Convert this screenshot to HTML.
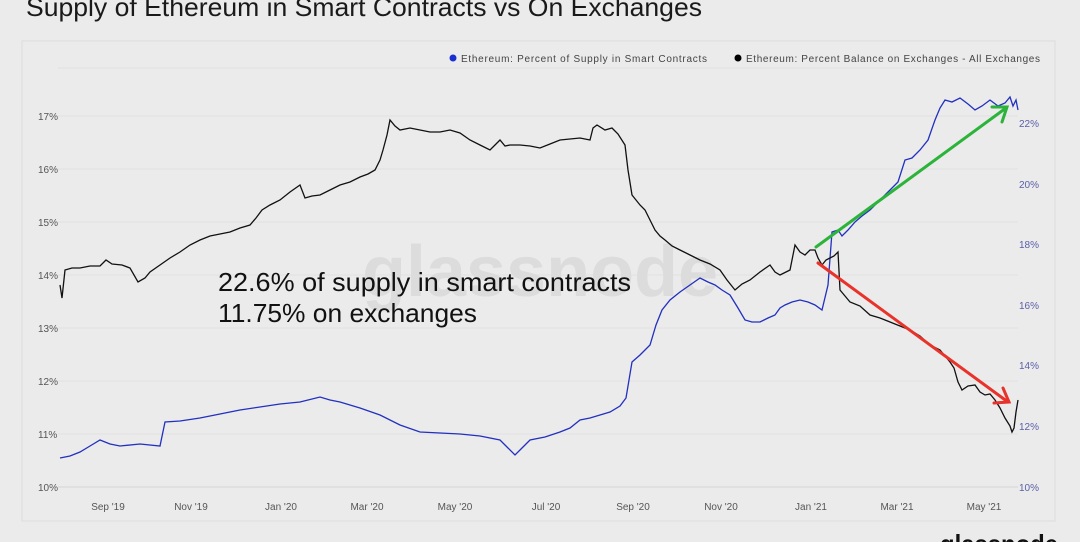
<!DOCTYPE html>
<html><head><meta charset="utf-8"><style>
html,body{margin:0;padding:0;background:#ebebeb;width:1080px;height:542px;overflow:hidden;font-family:"Liberation Sans",sans-serif}
</style></head><body>
<svg width="1080" height="542" viewBox="0 0 1080 542" xmlns="http://www.w3.org/2000/svg" font-family="Liberation Sans, sans-serif">
<rect width="1080" height="542" fill="#ebebeb"/>
<text x="26" y="16" font-size="26" fill="#1a1a1a" textLength="676" lengthAdjust="spacingAndGlyphs">Supply of Ethereum in Smart Contracts vs On Exchanges</text>
<rect x="22" y="41" width="1033" height="480" fill="#ebebeb" stroke="#dedede" stroke-width="1.2"/>
<g stroke="#e0e0e0" stroke-width="1">
<line x1="58" x2="1018" y1="68" y2="68"/>
<line x1="58" x2="1018" y1="116" y2="116"/><line x1="58" x2="1018" y1="169" y2="169"/>
<line x1="58" x2="1018" y1="222" y2="222"/><line x1="58" x2="1018" y1="275" y2="275"/>
<line x1="58" x2="1018" y1="328" y2="328"/><line x1="58" x2="1018" y1="381" y2="381"/>
<line x1="58" x2="1018" y1="434" y2="434"/><line x1="58" x2="1018" y1="487" y2="487" stroke="#d6d6d6"/>
</g>
<g font-size="10" fill="#555">
<text x="38" y="120">17%</text><text x="38" y="173">16%</text><text x="38" y="226">15%</text>
<text x="38" y="279">14%</text><text x="38" y="332">13%</text><text x="38" y="385">12%</text>
<text x="38" y="438">11%</text><text x="38" y="491">10%</text>
</g>
<g font-size="10" fill="#5a5fa8">
<text x="1019" y="127">22%</text><text x="1019" y="188">20%</text><text x="1019" y="248">18%</text>
<text x="1019" y="309">16%</text><text x="1019" y="369">14%</text><text x="1019" y="430">12%</text>
<text x="1019" y="491">10%</text>
</g>
<g font-size="10" fill="#555" text-anchor="middle">
<text x="108" y="510">Sep '19</text><text x="191" y="510">Nov '19</text><text x="281" y="510">Jan '20</text>
<text x="367" y="510">Mar '20</text><text x="455" y="510">May '20</text><text x="546" y="510">Jul '20</text>
<text x="633" y="510">Sep '20</text><text x="721" y="510">Nov '20</text><text x="811" y="510">Jan '21</text>
<text x="897" y="510">Mar '21</text><text x="984" y="510">May '21</text>
</g>
<circle cx="453" cy="58" r="3.5" fill="#1a2fd0"/>
<text x="461" y="62" font-size="10" fill="#444" textLength="246" lengthAdjust="spacing">Ethereum: Percent of Supply in Smart Contracts</text>
<circle cx="738" cy="58" r="3.5" fill="#000"/>
<text x="746" y="62" font-size="10" fill="#444" textLength="294" lengthAdjust="spacing">Ethereum: Percent Balance on Exchanges - All Exchanges</text>
<text x="362" y="296" font-size="72" fill="#dcdcdc" font-weight="bold">glassnode</text>
<polyline fill="none" stroke="#2230c0" stroke-width="1.3" points="60,458 70,456 80,452 90,446 100,440 110,444 120,446 140,444 160,446 165,422 180,421 200,418 220,414 240,410 260,407 280,404 300,402 320,397 330,400 340,402 360,408 380,415 400,425 420,432 440,433 460,434 480,436 500,440 508,448 515,455 522,448 530,440 545,437 560,432 570,428 580,420 590,418 600,415 610,412 620,406 626,398 632,362 640,355 650,345 656,325 662,310 670,300 680,292 690,285 700,278 708,282 715,285 722,290 730,295 738,308 745,320 752,322 760,322 768,318 775,315 780,308 785,305 792,302 800,300 808,302 815,305 822,310 828,285 832,232 838,230 842,236 848,230 855,222 862,216 870,210 880,200 890,190 898,182 905,160 912,158 920,150 928,140 935,120 940,108 945,100 952,102 960,98 968,104 975,110 982,106 990,100 998,106 1005,103 1010,97 1013,106 1016,100 1018,110"/>
<polyline fill="none" stroke="#111" stroke-width="1.3" points="60,285 62,298 65,270 72,268 80,268 90,266 100,266 106,260 112,264 122,265 130,268 138,282 145,278 150,272 160,265 170,258 180,252 190,245 200,240 210,236 220,234 230,232 240,228 250,225 256,218 262,210 270,205 280,200 290,192 300,185 305,198 312,196 320,195 330,190 340,185 350,182 360,177 368,174 375,170 380,160 383,150 387,135 390,120 395,126 400,130 410,128 420,130 430,132 440,132 450,130 460,133 470,140 480,145 490,150 495,145 500,140 505,146 510,145 520,145 530,146 540,148 550,144 560,140 570,139 580,138 590,140 593,128 597,125 605,130 612,128 618,134 625,145 628,170 632,195 640,205 645,210 650,220 655,230 660,236 665,240 672,246 680,250 690,255 700,260 710,264 720,270 727,280 735,290 742,284 750,280 760,272 770,265 775,272 780,275 786,272 790,270 793,255 795,245 800,252 805,255 810,250 815,250 818,258 822,265 826,260 830,258 834,256 838,252 840,290 845,296 850,302 860,306 870,315 880,318 890,322 900,326 910,330 920,336 930,345 940,350 950,362 954,368 958,382 962,390 968,386 975,385 980,392 985,395 990,394 995,400 1000,408 1005,418 1010,426 1012,432 1014,428 1016,412 1018,400"/>
<g stroke-width="3" fill="none" stroke-linecap="round">
<line x1="816" y1="247" x2="1006" y2="108" stroke="#2bb33a"/>
<polyline points="992,107 1007,107 1002,122" stroke="#2bb33a"/>
<line x1="818" y1="263" x2="1008" y2="402" stroke="#e8322a"/>
<polyline points="1003,388 1009,402 994,403" stroke="#e8322a"/>
</g>
<text x="218" y="291" font-size="26" fill="#111" textLength="413" lengthAdjust="spacingAndGlyphs">22.6% of supply in smart contracts</text>
<text x="218" y="322" font-size="26" fill="#111" textLength="259" lengthAdjust="spacingAndGlyphs">11.75% on exchanges</text>
<text x="940" y="553" font-size="26" fill="#111" font-weight="bold" textLength="118" lengthAdjust="spacingAndGlyphs">glassnode</text>
</svg>
</body></html>
